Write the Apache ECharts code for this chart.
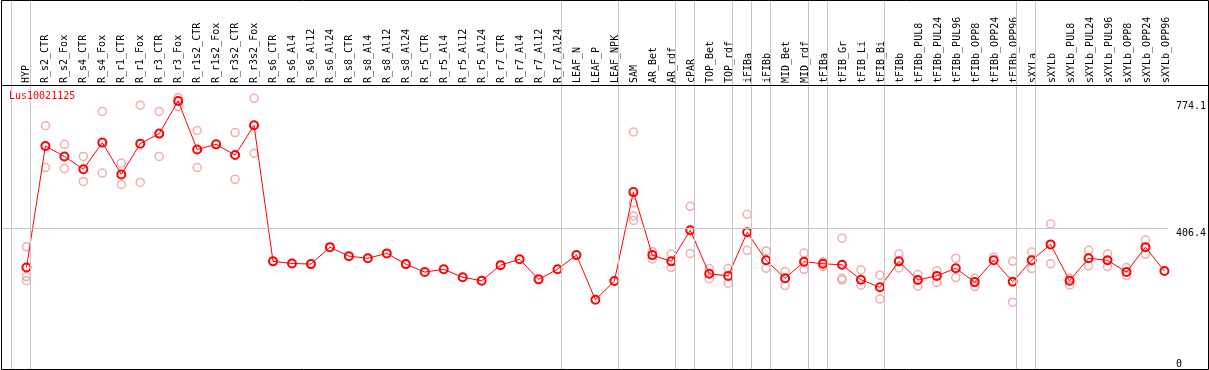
<!DOCTYPE html>
<html><head><meta charset="utf-8">
<script src="https://cdn.jsdelivr.net/npm/echarts@6/dist/echarts.min.js"></script>
<style>html,body{margin:0;padding:0;background:#fff}#c{width:1209px;height:370px}</style>
</head><body><div id="c"></div>
<script>
const seriesName = 'Lus10021125';
const categories = ['HYP','R_s2_CTR','R_s2_Fox','R_s4_CTR','R_s4_Fox','R_r1_CTR','R_r1_Fox','R_r3_CTR','R_r3_Fox','R_r1s2_CTR','R_r1s2_Fox','R_r3s2_CTR','R_r3s2_Fox','R_s6_CTR','R_s6_Al4','R_s6_Al12','R_s6_Al24','R_s8_CTR','R_s8_Al4','R_s8_Al12','R_s8_Al24','R_r5_CTR','R_r5_Al4','R_r5_Al12','R_r5_Al24','R_r7_CTR','R_r7_Al4','R_r7_Al12','R_r7_Al24','LEAF_N','LEAF_P','LEAF_NPK','SAM','AR_Bet','AR_rdf','cPAR','TOP_Bet','TOP_rdf','iFIBa','iFIBb','MID_Bet','MID_rdf','tFIBa','tFIB_Gr','tFIB_Li','tFIB_Bi','tFIBb','tFIBb_PUL8','tFIBb_PUL24','tFIBb_PUL96','tFIBb_OPP8','tFIBb_OPP24','tFIBb_OPP96','sXYLa','sXYLb','sXYLb_PUL8','sXYLb_PUL24','sXYLb_PUL96','sXYLb_OPP8','sXYLb_OPP24','sXYLb_OPP96'];
const means = [293,644,614,577,654,562,651,680,774.1,634,649,618,704,311,305,303,352,326,320,334,303,280,288,265,255,300,317,259,288,329,200,254,511,329,311,401,275,269,395,314,262,310,304,301,258,236,311,257,269,291,251,314,252,314,360,255,320,314,280,352,283];
const rep1 = [353,703,649,614,744,595,762,744,784,689,null,683,782,null,null,null,null,null,null,null,null,null,null,null,null,null,null,null,null,null,null,null,685,339,332,470,290,290,447,341,282,335,310,378,286,271,332,273,284,320,262,323,311,338,419,262,343,332,293,373,null];
const rep2 = [267,582,579,542,566,533,539,614,759,582,null,548,623,null,null,null,null,null,null,null,null,null,null,null,null,null,null,null,null,null,null,null,480,318,293,334,261,248,343,291,241,288,296,262,242,202,292,240,250,264,238,null,193,290,304,242,298,296,270,332,null];
const rep3 = [255,null,null,null,null,null,null,null,null,null,null,null,null,null,null,null,null,null,null,null,null,null,null,null,null,null,null,null,null,null,null,null,442,null,null,null,null,null,null,null,null,null,null,257,null,null,null,null,null,null,null,null,null,null,null,null,null,null,null,null,null];
const rep4 = [null,null,null,null,null,null,null,null,null,null,null,null,null,null,null,null,null,null,null,null,null,null,null,null,null,null,null,null,null,null,null,null,429,null,null,null,null,null,null,null,null,null,null,null,null,null,null,null,null,null,null,null,null,null,null,null,null,null,null,null,null];
const groupEnds = [-1,0,28,31,34,35,37,38,39,41,42,45,52,53,60];
const yTickLabels = [406.4, 774.1];
const yBaseLabel = [0];
const yGridValues = [406.4];

const FONT = 'DejaVu Sans Mono';
const repData = [];
[rep1, rep2, rep3, rep4].forEach(arr => arr.forEach((v, i) => { if (v != null) repData.push([i, v]); }));
const meanData = means.map((v, i) => [i, v]);

const chart = echarts.init(document.getElementById('c'), null, {renderer: 'canvas'});
const yCommon = {gridIndex: 0, type: 'value', min: 0, max: 1066, position: 'right',
  axisLine: {show: false}, axisTick: {show: false}, splitLine: {show: false}};
chart.setOption({
  animation: false,
  backgroundColor: '#fff',
  title: {text: seriesName, left: 9, top: 91, padding: 0,
    textStyle: {color: '#ff0000', fontSize: 10, fontFamily: FONT, fontWeight: 'normal'}},
  grid: [
    {left: 1, top: 0, width: 1169, height: 369},
    {left: 17, top: 85, width: 1159, height: 1}
  ],
  xAxis: [
    {gridIndex: 0, type: 'value', min: (1 - 26.5) / 19, max: (1170 - 26.5) / 19, show: false},
    {gridIndex: 1, type: 'category', position: 'top', data: categories, boundaryGap: true,
      axisLine: {show: false}, axisTick: {show: false}, splitLine: {show: false},
      axisLabel: {interval: 0, rotate: 90, margin: 2, fontSize: 10, fontFamily: FONT, color: '#000'}}
  ],
  yAxis: [
    Object.assign({}, yCommon, {axisLabel: {customValues: yTickLabels, verticalAlign: 'top', margin: 8,
      fontSize: 10, fontFamily: FONT, color: '#000', formatter: v => String(v)}}),
    Object.assign({}, yCommon, {axisLabel: {customValues: yBaseLabel, verticalAlign: 'bottom', margin: 8,
      fontSize: 10, fontFamily: FONT, color: '#000', formatter: v => String(v)}}),
    {gridIndex: 1, type: 'value', show: false}
  ],
  graphic: [
    {type: 'rect', silent: true, z: 100, shape: {x: 1.5, y: 0.5, width: 1207, height: 369},
      style: {fill: 'none', stroke: '#000', lineWidth: 1}},
    {type: 'line', silent: true, z: 100, shape: {x1: 1, y1: 85.5, x2: 1209, y2: 85.5},
      style: {stroke: '#000', lineWidth: 1}}
  ],
  series: [
    {type: 'scatter', name: 'replicates', xAxisIndex: 0, yAxisIndex: 0, data: repData,
      symbol: 'circle', symbolSize: 8, z: 2, silent: true,
      itemStyle: {color: 'rgba(0,0,0,0)', borderColor: '#ec9a9a', borderWidth: 1.5},
      markLine: {silent: true, symbol: ['none', 'none'], label: {show: false},
        lineStyle: {color: '#c6c6c6', width: 1, type: 'solid'},
        data: groupEnds.map(g => ({xAxis: g + 4 / 19})).concat(yGridValues.map(v => ({yAxis: v})))}},
    {type: 'line', name: seriesName, xAxisIndex: 0, yAxisIndex: 0, data: meanData,
      symbol: 'circle', symbolSize: 8, z: 3, silent: true,
      lineStyle: {color: '#ff0000', width: 1},
      itemStyle: {color: 'rgba(0,0,0,0)', borderColor: '#ff0000', borderWidth: 2}}
  ]
});
</script>
</body></html>
